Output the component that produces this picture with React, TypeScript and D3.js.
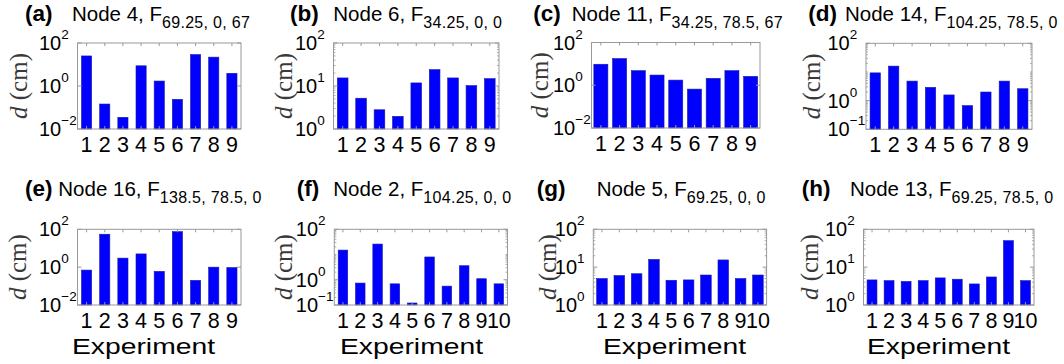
import React from "react";
import * as d3 from "d3";

// panel letters, node names and force subscripts
const panelIds = ["a", "b", "c", "d", "e", "f", "g", "h"];
const nodeNames = ["Node 4", "Node 6", "Node 11", "Node 14", "Node 16", "Node 2", "Node 5", "Node 13"];
const forceSubs = [
  "69.25, 0, 67",
  "34.25, 0, 0",
  "34.25, 78.5, 67",
  "104.25, 78.5, 0",
  "138.5, 78.5, 0",
  "104.25, 0, 0",
  "69.25, 0, 0",
  "69.25, 78.5, 0",
];

// experiment categories
const expts9 = [1, 2, 3, 4, 5, 6, 7, 8, 9];
const expts10 = [1, 2, 3, 4, 5, 6, 7, 8, 9, 10];

// displacement d (cm) per experiment
const dA = [25, 0.145, 0.035, 8.7, 1.7, 0.24, 29, 22, 3.9];
const dB = [15.4, 5.2, 2.8, 1.97, 11.8, 24, 15.4, 10.2, 14.8];
const dC = [9.6, 17.7, 4.8, 3.0, 1.74, 0.66, 2.1, 4.8, 2.6];
const dD = [9.3, 16, 4.8, 2.9, 1.58, 0.67, 2.0, 4.8, 2.6];
const dE = [0.7, 55, 3.0, 5, 0.6, 75, 0.2, 1.0, 0.95];
const dF = [15, 0.74, 26, 0.69, 0.12, 8, 0.56, 3.6, 1.1, 0.69];
const dG = [5.0, 6.0, 6.7, 16, 4.5, 4.6, 6.2, 15.5, 5.0, 6.2];
const dH = [4.6, 4.4, 4.2, 4.4, 5.2, 4.8, 3.6, 5.5, 50, 4.4];

const series = [dA, dB, dC, dD, dE, dF, dG, dH];
const categories = [expts9, expts9, expts9, expts9, expts9, expts10, expts10, expts10];

// y axis limits and tick values
const yDomains = [
  [0.01, 100], [1, 100], [0.01, 100], [0.1, 100],
  [0.01, 100], [0.1, 100], [1, 100], [1, 100],
];
const yTickVals = [
  [0.01, 1, 100], [1, 10, 100], [0.01, 1, 100], [0.1, 1, 100],
  [0.01, 1, 100], [0.1, 1, 100], [1, 10, 100], [1, 10, 100],
];

// layout (pixel positions), kept apart from the data
const layout = [
  { box: [77.5, 43, 241, 129], tagX: 25, nodeX: 72, titleY: 21, ylabX: 20, barFrac: 0.56 },
  { box: [333.5, 43, 499, 129], tagX: 290, nodeX: 333.3, titleY: 21, ylabX: 285, barFrac: 0.58 },
  { box: [591.5, 42.5, 760, 128], tagX: 533.3, nodeX: 571.7, titleY: 21, ylabX: 541, barFrac: 0.75 },
  { box: [866, 43.3, 1032, 129.3], tagX: 808.3, nodeX: 845, titleY: 21, ylabX: 813, barFrac: 0.56 },
  { box: [77.5, 229.3, 241, 305], tagX: 25, nodeX: 58.3, titleY: 196, ylabX: 19, barFrac: 0.56, xlabX: 72 },
  { box: [334.3, 229.3, 507.5, 305], tagX: 296.7, nodeX: 333.3, titleY: 196, ylabX: 285, barFrac: 0.55, xlabX: 340 },
  { box: [593.3, 229.3, 766.6, 305], tagX: 536.7, nodeX: 596.7, titleY: 196, ylabX: 549, barFrac: 0.61, xlabX: 603 },
  { box: [863.5, 229.3, 1034, 305], tagX: 801.7, nodeX: 850, titleY: 196, ylabX: 811, barFrac: 0.58, xlabX: 867 },
];

const sans = "'Liberation Sans', Arial, sans-serif";
const serif = "'Liberation Serif', 'Times New Roman', serif";
const boxColor = "#999";

const supStr = (v: number) => {
  const e = Math.round(Math.log10(v));
  return e < 0 ? "\u2212" + Math.abs(e) : String(e);
};

const Panel = ({ i }: { i: number }) => {
  const L = layout[i];
  const [x0, y0, x1, y1] = L.box;
  const data = series[i];
  const cats = categories[i];
  const x = d3.scaleLinear().domain([0.5, cats.length + 0.5]).range([x0, x1]);
  const y = d3.scaleLog().domain(yDomains[i]).range([y1, y0]);
  const step = x(2) - x(1);
  const bw = step * L.barFrac;
  const decades = Math.log10(yDomains[i][1] / yDomains[i][0]);
  const minor = decades <= 3 ? y.ticks().filter((t) => !yTickVals[i].includes(t)) : [];
  const midY = (y0 + y1) / 2;

  return (
    <g>
      {/* title */}
      <text x={L.tagX} y={L.titleY} fontFamily={sans} fontSize={22.5} fontWeight="bold" fill="#000">
        ({panelIds[i]})
      </text>
      <text x={L.nodeX} y={L.titleY} fontFamily={sans} fontSize={20.5} fill="#000">
        {nodeNames[i]}, F
        <tspan dy={7} fontSize={16} letterSpacing={0.3}>{forceSubs[i]}</tspan>
      </text>

      {/* bars */}
      {data.map((v, k) => (
        <rect
          key={k}
          x={x(cats[k]) - bw / 2}
          y={y(v)}
          width={bw}
          height={y1 - y(v)}
          fill="#0000ff"
          stroke="#1a1aa0"
          strokeWidth={0.6}
        />
      ))}

      {/* box */}
      <rect x={x0} y={y0} width={x1 - x0} height={y1 - y0} fill="none" stroke={boxColor} strokeWidth={1} />

      {/* x ticks top and bottom */}
      {cats.map((c) => (
        <g key={"xt" + c}>
          <line x1={x(c)} x2={x(c)} y1={y1} y2={y1 - 3} stroke={boxColor} />
          <line x1={x(c)} x2={x(c)} y1={y0} y2={y0 + 3} stroke={boxColor} />
          <text x={x(c)} y={y1 + 22.5} textAnchor="middle" fontFamily={sans} fontSize={21.5} fill="#000">
            {c}
          </text>
        </g>
      ))}

      {/* y ticks */}
      {yTickVals[i].map((t) => (
        <g key={"yt" + t}>
          <line x1={x0} x2={x0 + 4} y1={y(t)} y2={y(t)} stroke={boxColor} />
          <line x1={x1} x2={x1 - 4} y1={y(t)} y2={y(t)} stroke={boxColor} />
          <text x={x0 - 38.5} y={y(t) + 7} fontFamily={sans} fontSize={20} fill="#000">
            10
            <tspan dy={-11} fontSize={13.5}>{supStr(t)}</tspan>
          </text>
        </g>
      ))}
      {minor.map((t, k) => (
        <g key={"mt" + k}>
          <line x1={x0} x2={x0 + 2} y1={y(t)} y2={y(t)} stroke={boxColor} strokeWidth={0.8} />
          <line x1={x1} x2={x1 - 2} y1={y(t)} y2={y(t)} stroke={boxColor} strokeWidth={0.8} />
        </g>
      ))}

      {/* y label */}
      <text
        transform={`translate(${L.ylabX + 7},${midY}) rotate(-90)`}
        textAnchor="middle"
        fontFamily={serif}
        fontSize={25}
        fill="#3a3a3a"
      >
        <tspan fontStyle="italic">d</tspan> (cm)
      </text>

      {/* x label for bottom row */}
      {L.xlabX !== undefined && (
        <text
          x={L.xlabX}
          y={353.5}
          fontFamily={sans}
          fontSize={22.5}
          textLength={143}
          lengthAdjust="spacingAndGlyphs"
          fill="#000"
        >
          Experiment
        </text>
      )}
    </g>
  );
};

export default function App() {
  return (
    <svg
      width={1064}
      height={364}
      style={{ position: "absolute", left: 0, top: 0, background: "#fff" }}
    >
      <rect width={1064} height={364} fill="#fff" />
      {panelIds.map((id, i) => (
        <Panel key={id} i={i} />
      ))}
    </svg>
  );
}
